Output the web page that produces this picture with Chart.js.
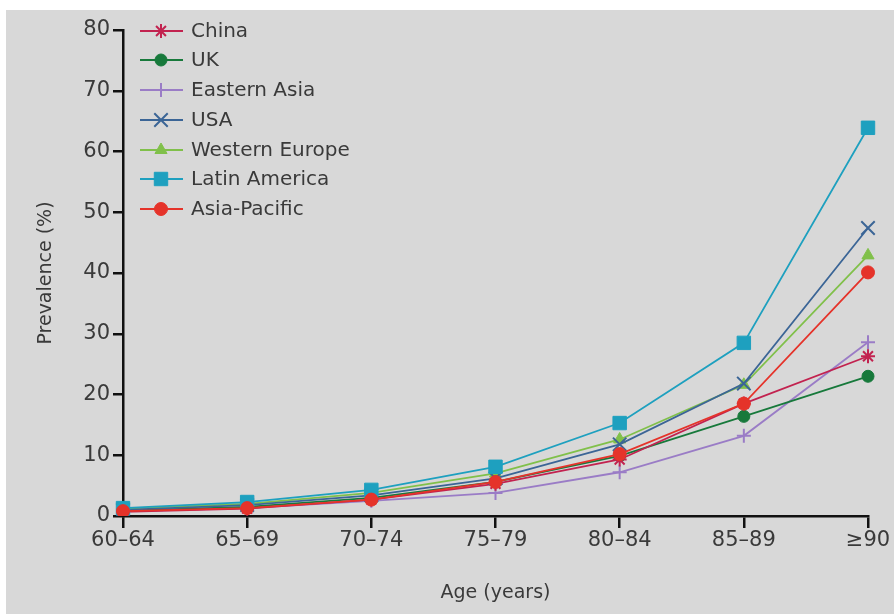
<!DOCTYPE html>
<html>
<head>
<meta charset="utf-8">
<script src="https://cdn.jsdelivr.net/npm/chart.js@4/dist/chart.umd.min.js"></script>
<style>
  html, body { margin: 0; padding: 0; background: #ffffff; }
  #wrap { position: absolute; left: 6px; top: 10px; width: 888px; height: 604px; background: #d8d8d8; }
  canvas { display: block; }
</style>
</head>
<body>
<div id="wrap"><canvas id="c" width="888" height="604"></canvas></div>
<script>
// Age groups and prevalence (%) per region
const ageGroups = ['60–64', '65–69', '70–74', '75–79', '80–84', '85–89', '≥90'];
const yTicks = [0, 10, 20, 30, 40, 50, 60, 70, 80];

const china         = [0.7, 1.2, 2.7, 5.3, 9.3, 18.5, 26.3];
const uk            = [0.9, 1.5, 3.0, 5.6, 9.9, 16.4, 23.0];
const easternAsia   = [0.8, 1.3, 2.5, 3.8, 7.2, 13.2, 28.6];
const usa           = [1.0, 1.8, 3.4, 6.2, 11.8, 21.8, 47.4];
const westernEurope = [1.2, 2.0, 3.8, 7.0, 12.6, 21.6, 42.9];
const latinAmerica  = [1.3, 2.3, 4.3, 8.1, 15.3, 28.5, 63.9];
const asiaPacific   = [0.8, 1.3, 2.7, 5.6, 10.2, 18.5, 40.1];

const FONT = '"DejaVu Sans", "Open Sans", sans-serif';
const TEXT = '#3a3a3a';

function series(label, data, color, style, radius, order) {
  return {
    label, data,
    borderColor: color, backgroundColor: color,
    pointStyle: style, pointRadius: radius,
    pointBorderColor: color, pointBackgroundColor: color,
    pointBorderWidth: (style === 'star' || style === 'cross' || style === 'crossRot') ? 2 : 1,
    borderWidth: 1.8, tension: 0, order
  };
}

const datasets = [
  series('China',          china,         '#c2224f', 'star',     7,   3),
  series('UK',             uk,            '#17793b', 'circle',   6,   4),
  series('Eastern Asia',   easternAsia,   '#9a7cc6', 'cross',    7,   5),
  series('USA',            usa,           '#3b6596', 'crossRot', 9.5, 2),
  series('Western Europe', westernEurope, '#80c04a', 'triangle', 7,   6),
  series('Latin America',  latinAmerica,  '#1ea0bf', 'rect',     9.5, 1),
  series('Asia-Pacific',   asiaPacific,   '#e5332a', 'circle',   6.5, 0)
];

// Legend drawn inside the plot: short line with the series marker, then the name
const innerLegend = {
  id: 'innerLegend',
  afterDraw(chart) {
    const ctx = chart.ctx;
    const x0 = 134, x1 = 177, xm = 155, tx = 185;
    const rows = [21, 50, 80, 110, 140, 169, 199];
    ctx.save();
    chart.data.datasets.forEach((ds, i) => {
      const y = rows[i];
      ctx.strokeStyle = ds.borderColor;
      ctx.lineWidth = 2;
      ctx.beginPath();
      ctx.moveTo(x0, y);
      ctx.lineTo(x1, y);
      ctx.stroke();
      ctx.fillStyle = ds.pointBackgroundColor;
      ctx.strokeStyle = ds.pointBorderColor;
      ctx.lineWidth = ds.pointBorderWidth;
      Chart.helpers.drawPoint(ctx, { pointStyle: ds.pointStyle, radius: ds.pointRadius, rotation: 0, borderWidth: ds.pointBorderWidth }, xm, y);
      ctx.fillStyle = TEXT;
      ctx.font = '20px ' + FONT;
      ctx.textBaseline = 'middle';
      ctx.textAlign = 'left';
      ctx.fillText(ds.label, tx, y + 1);
    });
    ctx.restore();
  }
};

new Chart(document.getElementById('c'), {
  type: 'line',
  data: { labels: ageGroups, datasets },
  plugins: [innerLegend],
  options: {
    responsive: false,
    animation: false,
    layout: { padding: { top: 20, right: 26, left: 0, bottom: 0 } },
    plugins: { legend: { display: false }, tooltip: { enabled: false } },
    scales: {
      x: {
        type: 'category',
        offset: false,
        afterFit(scale) { scale.height = 98; },
        grid: { display: true, drawOnChartArea: false, drawTicks: true, tickLength: 12, color: '#111', lineWidth: 2.5 },
        border: { display: true, color: '#111', width: 2.5 },
        ticks: { color: TEXT, font: { family: FONT, size: 21 }, padding: 0, maxRotation: 0, autoSkip: false },
        title: { display: true, text: 'Age (years)', color: TEXT, font: { family: FONT, size: 19 }, padding: { top: 0, bottom: 10 } }
      },
      y: {
        min: 0, max: 80,
        afterFit(scale) { scale.width = 117; },
        afterBuildTicks(scale) { scale.ticks = yTicks.map(v => ({ value: v })); },
        grid: { display: true, drawOnChartArea: false, drawTicks: true, tickLength: 10, color: '#111', lineWidth: 2.5 },
        border: { display: true, color: '#111', width: 2.5 },
        ticks: { color: TEXT, font: { family: FONT, size: 21 }, padding: 3 },
        title: { display: true, text: 'Prevalence (%)', color: TEXT, font: { family: FONT, size: 19 }, padding: { top: 29, bottom: 0 } }
      }
    }
  }
});
</script>
</body>
</html>
